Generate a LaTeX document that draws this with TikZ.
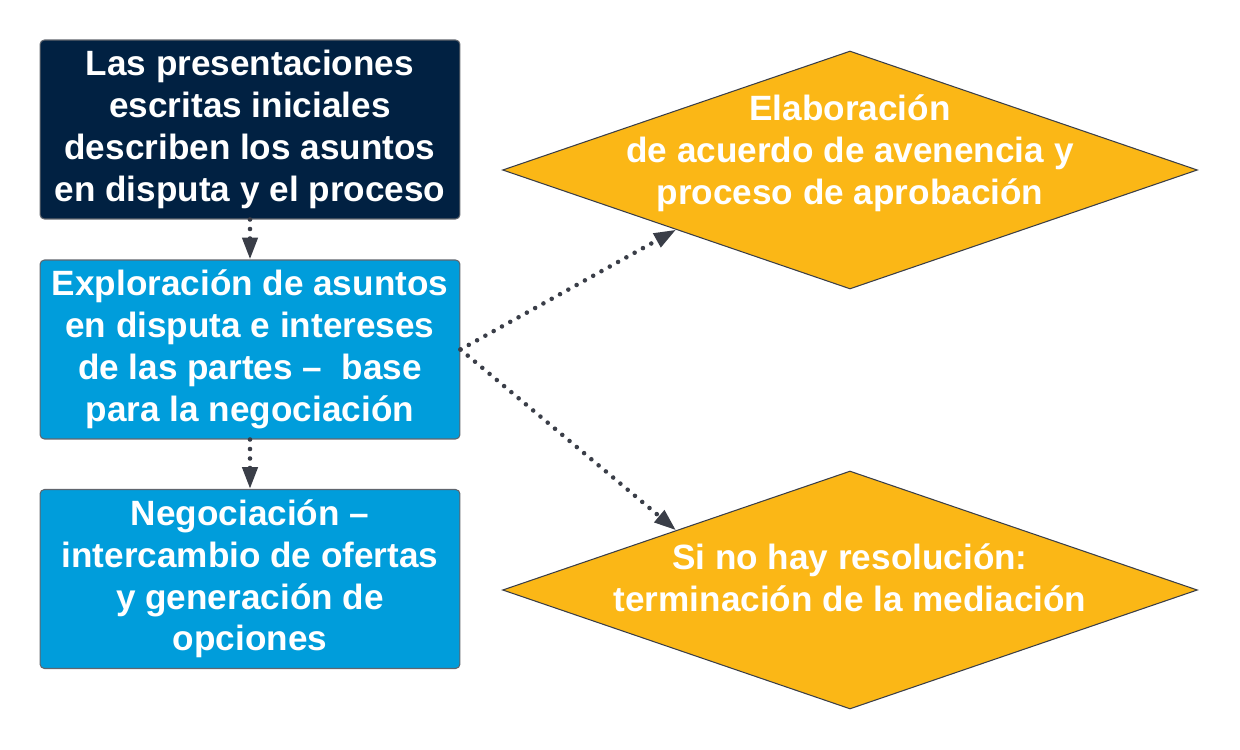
\documentclass[tikz,border=0pt]{standalone}
\usepackage{fontspec}
\setmainfont{Liberation Sans}
\usepackage{tikz}
\usetikzlibrary{shapes.geometric,arrows.meta}

\definecolor{navy}{RGB}{1,33,66}
\definecolor{skyblue}{RGB}{0,157,219}
\definecolor{amber}{RGB}{251,183,22}
\definecolor{slate}{RGB}{58,62,72}

\tikzset{
	stepbox/.style={draw=slate!80,line width=0.6pt,rounded corners=2.5pt,minimum width=8.4cm,minimum height=3.58cm,inner sep=0pt,align=center,text=white,font=\fontsize{20}{23.8}\selectfont\bfseries},
	choice/.style={diamond,draw=slate,line width=0.6pt,fill=amber,minimum width=13.9cm,minimum height=4.76cm,inner sep=0pt},
	choicetext/.style={align=center,text=white,font=\fontsize{20}{23.8}\selectfont\bfseries},
	flow/.style={slate,line width=2.6pt,line cap=round,dash pattern=on 0pt off 5.4pt,-{Triangle[width=8.5pt,length=12.5pt]}},
}

\begin{document}
\begin{tikzpicture}[x=0.02cm,y=-0.02cm]
		\useasboundingbox (0,0) rectangle (1240,750);
		% boxes on the left
		\node[stepbox,fill=navy] (pres) at (250,129.5) {Las presentaciones\\escritas iniciales\\describen los asuntos\\en disputa y el proceso};
		\node[stepbox,fill=skyblue] (expl) at (250,349.5) {Exploración de asuntos\\en disputa e intereses\\de las partes~--~ base\\para la negociación};
		\node[stepbox,fill=skyblue] (nego) at (250,579) {Negociación --\\intercambio de ofertas\\y generación de\\opciones};
		% outcomes
		\node[choice] (acuerdo) at (850,170) {};
		\node[choicetext] (acuerdotxt) at (850,153) {Elaboración\\de acuerdo de avenencia y\\proceso de aprobación};
		\node[choice] (fin) at (850,590) {};
		\node[choicetext] (fintxt) at (850,578) {Si no hay resolución:\\terminación de la mediación};
		%
		\path[flow]
		% vertical arrows
		(pres.south) edge (expl.north)
		(expl.south) edge (nego.north)
		% diagonal arrows
		(expl.east) edge (acuerdo.south west)
		(expl.east) edge (fin.north west);
	\end{tikzpicture}
\end{document}
